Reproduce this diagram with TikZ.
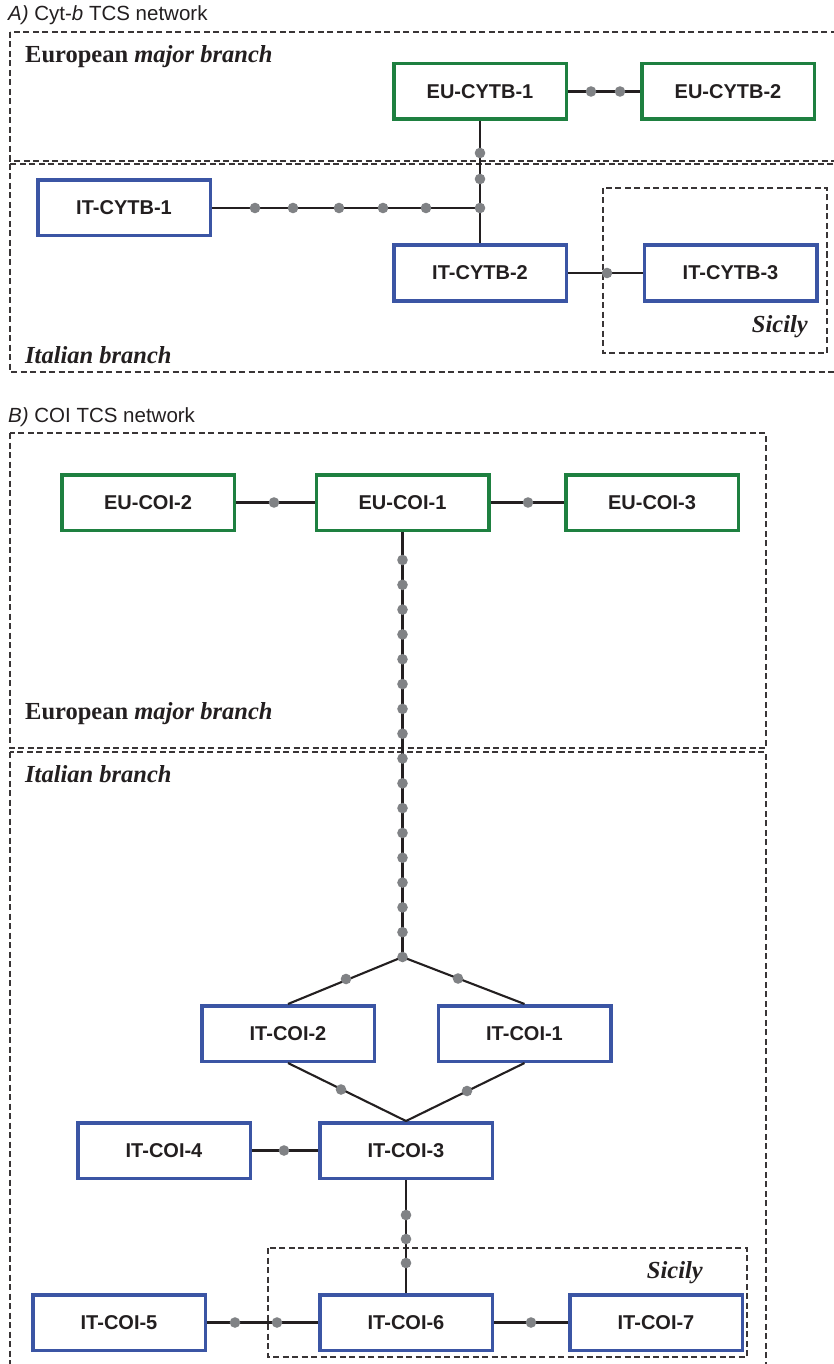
\documentclass[tikz,border=0pt]{standalone}
\usepackage{fontspec}
\setmainfont{Liberation Serif}
\setsansfont{Liberation Sans}
\definecolor{eugreen}{RGB}{30,128,64}
\definecolor{itblue}{RGB}{59,85,164}
\definecolor{dotgray}{RGB}{128,130,133}
\definecolor{ink}{RGB}{35,31,32}
\tikzset{
  hapbox/.style={draw, line width=3.5pt, minimum width=172.5pt, minimum height=55.5pt, inner sep=0pt,
    font=\sffamily\bfseries\fontsize{20}{24}\selectfont, text=ink, fill=white},
  eubox/.style={hapbox, draw=eugreen},
  itbox/.style={hapbox, draw=itblue},
  conn/.style={draw=ink, line width=2.1pt},
  region/.style={draw=ink!90, line width=1.2pt, dash pattern=on 6pt off 3.5pt},
  regionlabel/.style={inner sep=0pt, text=ink, font=\fontsize{24.5}{28}\selectfont\bfseries},
  title/.style={inner sep=0pt, text=ink, font=\sffamily\fontsize{20.5}{24}\selectfont, anchor=base west}
}
\newcommand{\hdot}[1]{\fill[dotgray] (#1) circle (5.3pt);}
\begin{document}
\begin{tikzpicture}[x=1pt,y=-1pt]
\useasboundingbox (0,0) rectangle (834,1364);
\clip (0,0) rectangle (834,1364);
\fill[white] (0,0) rectangle (834,1364);

% ---------------- Panel A ----------------
\node[title] (tA) at (8,21) {\textit{A)} Cyt-\textit{b} TCS network};
\draw[region] (10,32) rectangle (850,161);
\draw[region] (10,164) rectangle (850,372);
\draw[region] (603,188) rectangle (827,353);
\node[regionlabel, anchor=base west] (euA) at (25,63) {European \textit{major branch}};
\node[regionlabel, anchor=base west] (itA) at (25,363) {\textit{Italian branch}};
\node[regionlabel, anchor=base east] (siA) at (808,332) {\textit{Sicily}};

\coordinate (jA) at (480,208);
\node[eubox] (eu1) at (480,91.5) {EU-CYTB-1};
\node[eubox] (eu2) at (728,91.5) {EU-CYTB-2};
\node[itbox] (it1) at (124,208) {IT-CYTB-1};
\node[itbox] (it2) at (480,273) {IT-CYTB-2};
\node[itbox] (it3) at (730.5,273) {IT-CYTB-3};

\draw[conn] (eu1) -- (eu2);
\draw[conn] (eu1) -- (it2);
\draw[conn] (it1) -- (jA);
\draw[conn] (it2) -- (it3);
\foreach \p in {{591,91.5},{620,91.5},{480,153},{480,179},{480,208},
  {255,208},{293,208},{339,208},{383,208},{426,208},{607,273}} {\hdot{\p}}

% ---------------- Panel B ----------------
\node[title] (tB) at (8,422) {\textit{B)} COI TCS network};
\draw[region] (10,433) rectangle (766,748);
\draw[region] (10,752) rectangle (766,1380);
\draw[region] (268,1248) rectangle (747,1357);
\node[regionlabel, anchor=base west] (euB) at (25,719) {European \textit{major branch}};
\node[regionlabel, anchor=base west] (itB) at (25,782) {\textit{Italian branch}};
\node[regionlabel, anchor=base east] (siB) at (703,1278) {\textit{Sicily}};

\coordinate (jB) at (402.5,957);
\node[eubox] (ec2) at (148,502.5) {EU-COI-2};
\node[eubox] (ec1) at (402.5,502.5) {EU-COI-1};
\node[eubox] (ec3) at (652,502.5) {EU-COI-3};
\node[itbox] (ic2) at (288,1033.5) {IT-COI-2};
\node[itbox] (ic1) at (524.5,1033.5) {IT-COI-1};
\node[itbox] (ic3) at (406,1150.5) {IT-COI-3};
\node[itbox] (ic4) at (164,1150.5) {IT-COI-4};
\node[itbox] (ic5) at (119,1322.5) {IT-COI-5};
\node[itbox] (ic6) at (406,1322.5) {IT-COI-6};
\node[itbox] (ic7) at (656,1322.5) {IT-COI-7};

\draw[conn] (ec2) -- (ec1);
\draw[conn] (ec1) -- (ec3);
\draw[conn] (ec1) -- (jB);
\draw[conn] (jB) -- (ic2.north);
\draw[conn] (jB) -- (ic1.north);
\draw[conn] (ic2.south) -- (ic3.north);
\draw[conn] (ic1.south) -- (ic3.north);
\draw[conn] (ic4) -- (ic3);
\draw[conn] (ic3) -- (ic6);
\draw[conn] (ic5) -- (ic6);
\draw[conn] (ic6) -- (ic7);
\foreach \k in {0,...,16} {\hdot{402.5,560+24.8125*\k}}
\foreach \p in {{274,502.5},{528,502.5},{346,979},{458,978.5},{341,1089.5},{467,1091},
  {284,1150.5},{406,1215},{406,1239},{406,1263},{235,1322.5},{277,1322.5},{531,1322.5}} {\hdot{\p}}
\end{tikzpicture}
\end{document}
